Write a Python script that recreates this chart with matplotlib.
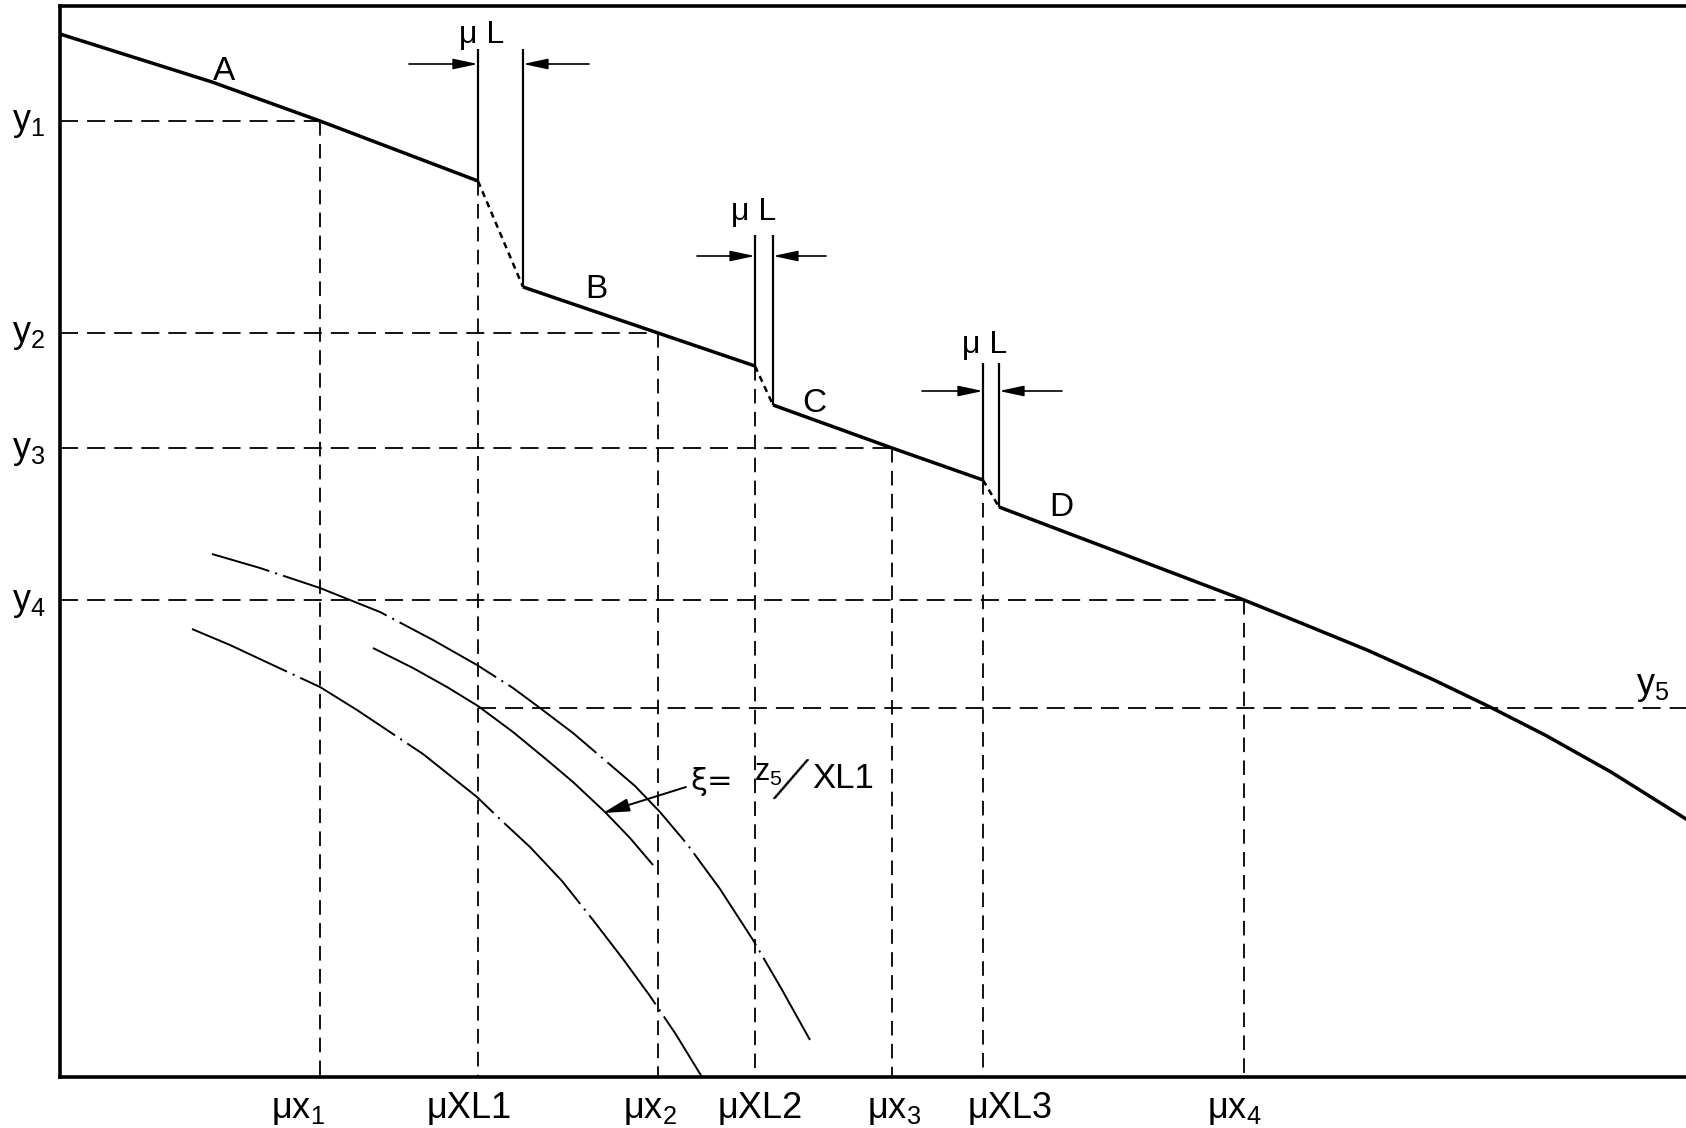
import matplotlib.pyplot as plt

W, H = 1686, 1128
DPI = 100

plt.rcParams.update({
    "font.family": ["Liberation Sans", "DejaVu Sans"],
    "mathtext.fontset": "custom",
    "mathtext.rm": "Liberation Sans",
    "mathtext.it": "Liberation Sans:italic",
    "mathtext.default": "regular",
    "lines.scale_dashes": False,
    "lines.solid_capstyle": "butt",
})

# drawing units: x to the right, y measured downward from the top of the sheet
# main characteristic, segments A..D
seg_A_x = [60, 212, 320, 478]
seg_A_y = [34, 82, 121, 181]
seg_B_x = [523, 658, 755]
seg_B_y = [287, 333, 366]
seg_C_x = [773, 892, 983]
seg_C_y = [405, 448, 480]
seg_D_x = [999, 1123, 1244, 1301, 1367, 1434, 1490, 1545, 1611, 1686, 1710]
seg_D_y = [507, 554, 600, 623, 650, 680, 707, 735, 772, 819, 835]
seg_names = ["A", "B", "C", "D"]
seg_label_x = [224, 596, 814, 1061]
seg_label_y = [72, 290, 403, 508]

# steps of width uL between the segments
step_left = [478, 755, 983]
step_right = [523, 773, 999]
step_y0 = [181, 366, 480]
step_y1 = [287, 405, 507]
step_top = [49, 235, 363]
arrow_y = [64, 256, 391]
arrow_tail_left = [409, 697, 922]
arrow_tail_right = [589, 826, 1062]
uL_label_x = [482, 754, 985]
uL_label_y = [35, 212, 345]

# reference levels y1..y4 and their crossings
y_levels = [121, 333, 448, 600]
y_hits = [320, 658, 892, 1244]
y_names = ["y$_1$", "y$_2$", "y$_3$", "y$_4$"]
y5_level = 708
y5_start = 478

# x positions on the abscissa
x_marks = [320, 478, 658, 755, 892, 983, 1244]
x_tops = [121, 181, 333, 366, 448, 480, 600]
x_names = ["μx$_1$", "μXL1", "μx$_2$", "μXL2", "μx$_3$", "μXL3", "μx$_4$"]
x_label_pos = [298, 469, 650, 760, 894, 1010, 1234]

# family of xi curves
xi_hi_x = [212, 260, 320, 380, 433, 477, 513, 540, 573, 607, 635, 660, 687, 720, 753, 781, 810]
xi_hi_y = [554, 568, 588, 612, 640, 665, 688, 708, 733, 762, 786, 812, 844, 889, 940, 988, 1040]
xi_mid_x = [373, 413, 447, 478, 513, 547, 573, 605, 630, 653]
xi_mid_y = [648, 668, 687, 706, 732, 760, 782, 812, 838, 865]
xi_lo_x = [192, 230, 277, 320, 357, 387, 423, 477, 503, 530, 562, 593, 623, 650, 675, 702]
xi_lo_y = [629, 645, 667, 687, 710, 730, 754, 797, 822, 847, 881, 920, 959, 996, 1033, 1077]

fig = plt.figure(figsize=(W / DPI, H / DPI), dpi=DPI)
ax = fig.add_axes([60 / W, (H - 1077) / H, (1710 - 60) / W, (1077 - 6) / H])
ax.set_xlim(60, 1710)
ax.set_ylim(1077, 6)
ax.set_xticks([])
ax.set_yticks([])
for s in ax.spines.values():
    s.set_linewidth(2.6)

thick = dict(color="k", lw=2.5, solid_joinstyle="round")
hdash = dict(color="k", lw=1.3, ls=(0, (13, 6.5)))
vdash = dict(color="k", lw=1.3, ls=(0, (10.5, 6)))

# dashed construction lines
for yl, xh in zip(y_levels, y_hits):
    ax.plot([60, xh], [yl, yl], **hdash)
ax.plot([y5_start, 1710], [y5_level, y5_level], **hdash)
for xm, yt in zip(x_marks, x_tops):
    ax.plot([xm, xm], [yt, 1077], **vdash)

# main curve
for sx, sy in [(seg_A_x, seg_A_y), (seg_B_x, seg_B_y), (seg_C_x, seg_C_y), (seg_D_x, seg_D_y)]:
    ax.plot(sx, sy, **thick)
for name, lx, ly in zip(seg_names, seg_label_x, seg_label_y):
    ax.text(lx, ly, name, ha="center", va="center", fontsize=24)

# steps with uL dimension
for i in range(3):
    ax.plot([step_left[i], step_right[i]], [step_y0[i], step_y1[i]],
            color="k", lw=1.8, ls=(0, (4.5, 3.5)))
    ax.plot([step_left[i], step_left[i]], [step_top[i], step_y0[i]], color="k", lw=1.6)
    ax.plot([step_right[i], step_right[i]], [step_top[i], step_y1[i]], color="k", lw=1.6)
    for tail, head in [(arrow_tail_left[i], step_left[i]), (arrow_tail_right[i], step_right[i])]:
        ax.annotate("", xy=(head, arrow_y[i]), xytext=(tail, arrow_y[i]),
                    arrowprops=dict(arrowstyle="-|>,head_length=0.75,head_width=0.16",
                                    mutation_scale=20, color="k", lw=1.2,
                                    shrinkA=0, shrinkB=0))
    ax.text(uL_label_x[i], uL_label_y[i], "μ L", ha="center", va="center", fontsize=23)

# xi curves
ax.plot(xi_hi_x, xi_hi_y, color="k", lw=1.4, ls=(37, (80, 4.5, 1.5, 4.5)), solid_joinstyle="round")
ax.plot(xi_mid_x, xi_mid_y, color="k", lw=1.4, solid_joinstyle="round")
ax.plot(xi_lo_x, xi_lo_y, color="k", lw=1.4, ls=(5, (80, 4.5, 1.5, 4.5)), solid_joinstyle="round")
ax.annotate("", xy=(603, 813), xytext=(686, 787),
            arrowprops=dict(arrowstyle="-|>,head_length=0.8,head_width=0.2",
                            mutation_scale=20, color="k", lw=1.4, shrinkA=0, shrinkB=0))
ax.text(690, 782, "ξ=", ha="left", va="center", fontsize=22, family="DejaVu Sans")
ax.text(754, 773, "z$_5$", ha="left", va="center", fontsize=22)
ax.text(789, 783, "/", ha="center", va="center", fontsize=46, rotation=-18,
        family=["Lato", "Liberation Sans"], fontweight=300)
ax.text(812, 778, "XL1", ha="left", va="center", fontsize=25)

# axis labels
for yl, nm in zip(y_levels, y_names):
    ax.text(12, yl + 2, nm, ha="left", va="center", fontsize=26)
ax.text(1636, 686, "y$_5$", ha="left", va="center", fontsize=26)
for xp, nm in zip(x_label_pos, x_names):
    ax.text(xp, 1118, nm, ha="center", va="baseline", fontsize=26)

fig.savefig("out.png", dpi=DPI)
